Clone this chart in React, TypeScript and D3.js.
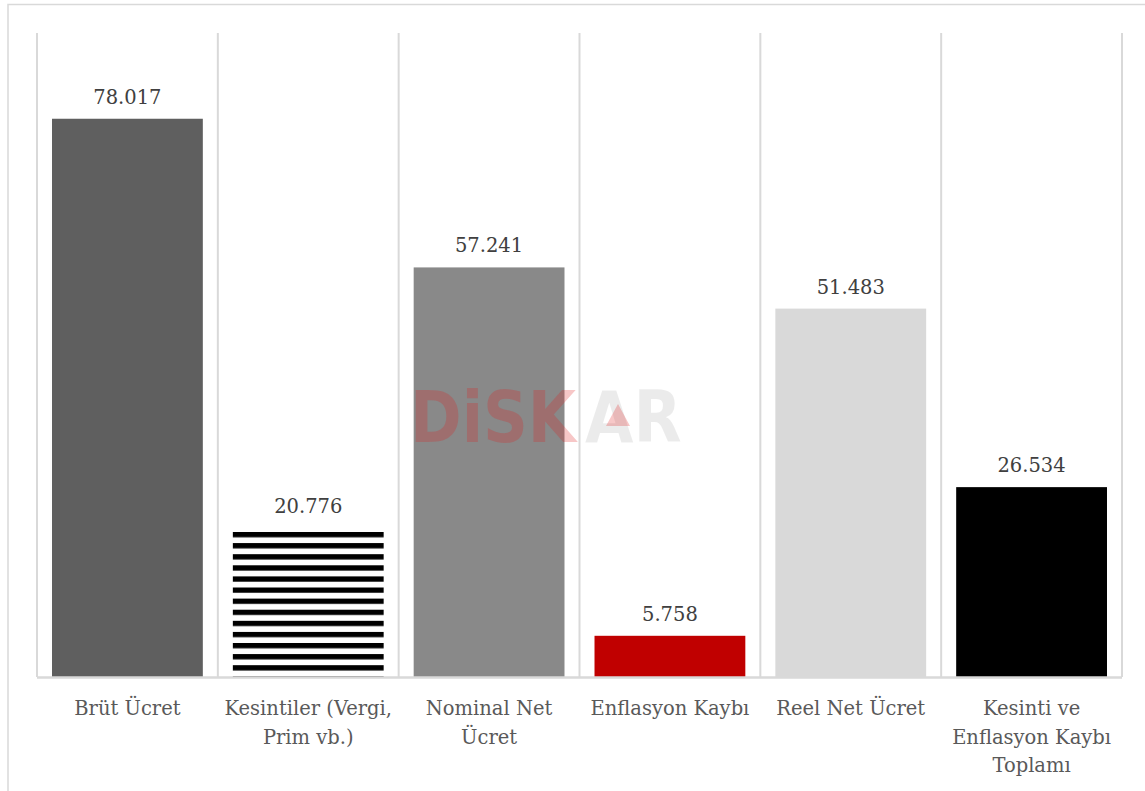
import React from "react";
import * as d3 from "d3";

const categories: string[][] = [
  ["Brüt Ücret"],
  ["Kesintiler (Vergi,", "Prim vb.)"],
  ["Nominal Net", "Ücret"],
  ["Enflasyon Kaybı"],
  ["Reel Net Ücret"],
  ["Kesinti ve", "Enflasyon Kaybı", "Toplamı"],
];
const values: number[] = [78.017, 20.776, 57.241, 5.758, 51.483, 26.534];
const valueLabels: string[] = ["78.017", "20.776", "57.241", "5.758", "51.483", "26.534"];
const fills: string[] = ["#5f5f5f", "url(#stripes)", "#898989", "#c00000", "#d9d9d9", "#000000"];

const W = 1145;
const H = 791;
const left = 37;
const right = 1122;
const top = 33;
const bottom = 677;
const FONT = "'DejaVu Serif', serif";

export default function App() {
  const x = d3
    .scaleBand<number>()
    .domain(d3.range(values.length))
    .range([left, right])
    .paddingInner(0.166)
    .paddingOuter(0.083);
  const y = d3.scaleLinear().domain([0, 90]).range([bottom, top]);
  const step = (right - left) / values.length;
  const gridXs = d3.range(values.length + 1).map((i) => left + i * step);

  return (
    <svg
      width={W}
      height={H}
      style={{ position: "absolute", left: 0, top: 0, display: "block" }}
    >
      <defs>
        <pattern id="stripes" patternUnits="userSpaceOnUse" x={0} y={532} width={20} height={11.1}>
          <rect x={0} y={0} width={20} height={11.1} fill="#ffffff" />
          <rect x={0} y={0} width={20} height={5.3} fill="#000000" />
        </pattern>
      </defs>
      <rect x={0} y={0} width={W} height={H} fill="#ffffff" />
      <path d={`M8,${H + 2} V4.5 H${W + 2}`} fill="none" stroke="#d9d9d9" strokeWidth={1.5} />
      {gridXs.map((gx, i) => (
        <line key={i} x1={gx} x2={gx} y1={top} y2={bottom} stroke="#d9d9d9" strokeWidth={2} />
      ))}
      {values.map((v, i) => (
        <rect
          key={i}
          x={x(i)!}
          y={y(v)}
          width={x.bandwidth()}
          height={y(0) - y(v)}
          fill={fills[i]}
        />
      ))}
      <line x1={left} x2={right} y1={bottom + 0.5} y2={bottom + 0.5} stroke="#d9d9d9" strokeWidth={2.5} />
      {values.map((v, i) => (
        <text
          key={i}
          x={x(i)! + x.bandwidth() / 2}
          y={y(v) - 15}
          textAnchor="middle"
          fontFamily={FONT}
          fontSize={19.5}
          fill="#404040"
        >
          {valueLabels[i]}
        </text>
      ))}
      {categories.map((lines, i) => (
        <text
          key={i}
          x={x(i)! + x.bandwidth() / 2}
          textAnchor="middle"
          fontFamily={FONT}
          fontSize={19.5}
          fill="#595959"
        >
          {lines.map((l, j) => (
            <tspan key={j} x={x(i)! + x.bandwidth() / 2} y={715 + j * 28.5}>
              {l}
            </tspan>
          ))}
        </text>
      ))}
      <g fontFamily="'DejaVu Sans', sans-serif" fontWeight="bold" fontSize={72}>
        <text transform="translate(410,442) scale(0.865,1)" fill="#e02020" fillOpacity={0.25}>
          DiSK
        </text>
        <text transform="translate(585,442) scale(0.87,1)" fill="#000000" fillOpacity={0.08}>
          AR
        </text>
        <path d="M618,404 L630,426 L606,426 Z" fill="#e02020" fillOpacity={0.25} />
      </g>
    </svg>
  );
}
